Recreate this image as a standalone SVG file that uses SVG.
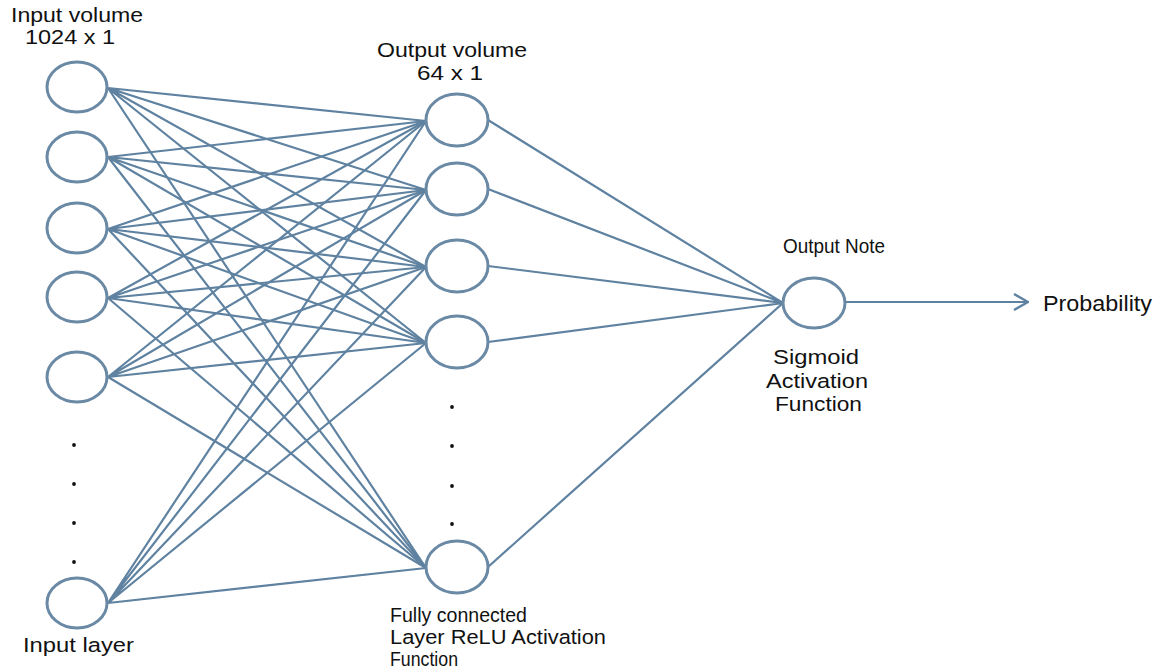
<svg xmlns="http://www.w3.org/2000/svg" width="1159" height="672" viewBox="0 0 1159 672">
  <style>
    .node { fill: #ffffff; stroke: #6a89a5; stroke-width: 3; }
    .edge { stroke: #5f82a1; stroke-width: 2.2; fill: none; }
    .lbl { font-family: "Liberation Sans", Arial, sans-serif; font-size: 20.5px; fill: #111111; }
    .dot { fill: #111111; }
  </style>
  <defs>
    <marker id="chev" viewBox="0 0 16 18" refX="15" refY="9" markerWidth="16" markerHeight="18" markerUnits="userSpaceOnUse" orient="auto">
      <path d="M1,1 L15,9 L1,17" fill="none" stroke="#5f82a1" stroke-width="2.4"/>
    </marker>
  </defs>
  <rect width="1159" height="672" fill="#ffffff"/>

  <!-- connectors -->
  <g id="connectors">
    <!-- input layer to hidden layer (fully connected) -->
    <g id="in-to-hidden">
      <path class="edge" d="M108,88 L426,121 M108,88 L426,190 M108,88 L426,267 M108,88 L426,343 M108,88 L426,568"/>
      <path class="edge" d="M108,157 L426,121 M108,157 L426,190 M108,157 L426,267 M108,157 L426,343 M108,157 L426,568"/>
      <path class="edge" d="M108,229 L426,121 M108,229 L426,190 M108,229 L426,267 M108,229 L426,343 M108,229 L426,568"/>
      <path class="edge" d="M108,298 L426,121 M108,298 L426,190 M108,298 L426,267 M108,298 L426,343 M108,298 L426,568"/>
      <path class="edge" d="M108,377 L426,121 M108,377 L426,190 M108,377 L426,267 M108,377 L426,343 M108,377 L426,568"/>
      <path class="edge" d="M108,603 L426,121 M108,603 L426,190 M108,603 L426,267 M108,603 L426,343 M108,603 L426,568"/>
    </g>
    <!-- hidden layer to output node -->
    <g id="hidden-to-out">
      <path class="edge" d="M488,120 L783,303 M488,189 L783,303 M488,266 L783,303 M488,342 L783,303 M488,567 L783,303"/>
    </g>
    <path id="out-arrow" class="edge" d="M845,302 L1028,302" marker-end="url(#chev)"/>
  </g>

  <!-- input layer -->
  <g id="input-layer">
    <ellipse id="in1" class="node" cx="77" cy="87" rx="30" ry="25"/>
    <ellipse id="in2" class="node" cx="77" cy="157" rx="30" ry="25"/>
    <ellipse id="in3" class="node" cx="77" cy="228" rx="30" ry="25"/>
    <ellipse id="in4" class="node" cx="77" cy="297" rx="30" ry="25"/>
    <ellipse id="in5" class="node" cx="77" cy="377" rx="30" ry="25"/>
    <ellipse id="in6" class="node" cx="77" cy="603" rx="30" ry="25"/>
    <circle class="dot" cx="74" cy="445" r="1.9"/>
    <circle class="dot" cx="74" cy="484" r="1.9"/>
    <circle class="dot" cx="74" cy="523" r="1.9"/>
    <circle class="dot" cx="74" cy="562" r="1.9"/>
    <text class="lbl" x="11" y="22" textLength="132" lengthAdjust="spacingAndGlyphs">Input volume</text>
    <text class="lbl" x="25" y="44" textLength="90" lengthAdjust="spacingAndGlyphs">1024 x 1</text>
    <text class="lbl" x="23" y="652" textLength="111" lengthAdjust="spacingAndGlyphs">Input layer</text>
  </g>

  <!-- hidden layer -->
  <g id="hidden-layer">
    <ellipse id="h1" class="node" cx="457" cy="120" rx="31" ry="26"/>
    <ellipse id="h2" class="node" cx="457" cy="189" rx="31" ry="26"/>
    <ellipse id="h3" class="node" cx="457" cy="266" rx="31" ry="26"/>
    <ellipse id="h4" class="node" cx="457" cy="342" rx="31" ry="26"/>
    <ellipse id="h5" class="node" cx="457" cy="567" rx="31" ry="26"/>
    <circle class="dot" cx="452" cy="407" r="1.9"/>
    <circle class="dot" cx="452" cy="446" r="1.9"/>
    <circle class="dot" cx="452" cy="486" r="1.9"/>
    <circle class="dot" cx="452" cy="524" r="1.9"/>
    <text class="lbl" x="377" y="57" textLength="150" lengthAdjust="spacingAndGlyphs">Output volume</text>
    <text class="lbl" x="417" y="80" textLength="66" lengthAdjust="spacingAndGlyphs">64 x 1</text>
    <text class="lbl" x="390" y="622" textLength="137" lengthAdjust="spacingAndGlyphs">Fully connected</text>
    <text class="lbl" x="390" y="644" textLength="216" lengthAdjust="spacingAndGlyphs">Layer ReLU Activation</text>
    <text class="lbl" x="390" y="666" textLength="68" lengthAdjust="spacingAndGlyphs">Function</text>
  </g>

  <!-- output node -->
  <g id="output-node">
    <ellipse id="out" class="node" cx="814" cy="303" rx="31" ry="25"/>
    <text class="lbl" x="783" y="253" textLength="102" lengthAdjust="spacingAndGlyphs">Output Note</text>
    <text class="lbl" x="773" y="364" textLength="86" lengthAdjust="spacingAndGlyphs">Sigmoid</text>
    <text class="lbl" x="766" y="388" textLength="102" lengthAdjust="spacingAndGlyphs">Activation</text>
    <text class="lbl" x="775" y="411" textLength="87" lengthAdjust="spacingAndGlyphs">Function</text>
  </g>

  <!-- result label -->
  <g id="probability">
    <text class="lbl" x="1043" y="311" textLength="109" lengthAdjust="spacingAndGlyphs" style="font-size:21.5px">Probability</text>
  </g>
</svg>
